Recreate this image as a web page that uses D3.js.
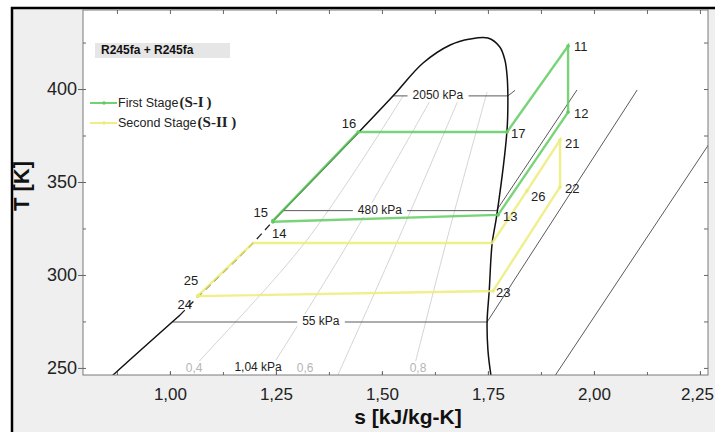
<!DOCTYPE html>
<meta charset="utf-8">
<script src="https://cdn.jsdelivr.net/npm/d3@7"></script>
<style>
  body { margin: 0; background: #fff; }
  text { font-family: "Liberation Sans", Arial, sans-serif; }
</style>
<div id="chart"></div>
<script>

// ---- data (s in kJ/kg-K, T in K) ----
const sTicks = [1.00, 1.25, 1.50, 1.75, 2.00, 2.25];
const sTickLabels = ["1,00", "1,25", "1,50", "1,75", "2,00", "2,25"];
const TTicks = [250, 300, 350, 400];

// saturation dome, liquid side up to the critical point and down the vapour side
const dome = [
  [0.854, 243.5], [0.866, 246.2], [1.024, 278.5], [1.066, 288.2], [1.196, 317.2],
  [1.243, 329.0], [1.448, 377.4], [1.526, 396.2], [1.597, 414.0], [1.661, 423.7],
  [1.708, 426.9], [1.750, 427.4], [1.778, 422.6], [1.790, 415.6], [1.795, 407.5],
  [1.797, 396.8], [1.795, 377.9], [1.771, 332.3], [1.760, 317.2], [1.753, 291.4],
  [1.748, 274.7], [1.750, 259.6], [1.757, 246.2], [1.760, 242.4]
];

// first stage cycle (S-I)
const stage1 = [
  { name: "14", s: 1.243, T: 328.6 },
  { name: "15", s: 1.243, T: 329.2 },
  { name: "16", s: 1.444, T: 376.9 },
  { name: "17", s: 1.795, T: 376.9 },
  { name: "11", s: 1.939, T: 423.1 },
  { name: "12", s: 1.939, T: 387.6 },
  { name: "13", s: 1.774, T: 332.3 },
  { name: "14", s: 1.243, T: 328.6 }
];

// second stage cycle (S-II)
const stage2 = [
  { name: "24", s: 1.066, T: 288.6 },
  { name: "25", s: 1.067, T: 289.0 },
  { name: "",   s: 1.196, T: 317.2 },
  { name: "",   s: 1.760, T: 317.2 },
  { name: "26", s: 1.842, T: 345.2 },
  { name: "21", s: 1.920, T: 372.6 },
  { name: "22", s: 1.920, T: 347.3 },
  { name: "23", s: 1.762, T: 291.4 },
  { name: "24", s: 1.066, T: 288.6 }
];

// isobars
const isobars = [
  { label: "2050 kPa", pts: [[1.526, 396.3], [1.797, 396.3], [1.814, 399.3]], at: [1.632, 396.3] },
  { label: "480 kPa",  pts: [[1.268, 334.6], [1.770, 334.6], [1.960, 399.5]], at: [1.495, 334.6] },
  { label: "55 kPa",   pts: [[1.007, 274.7], [1.748, 274.7], [2.102, 399.5]], at: [1.356, 274.7] },
  { label: "1,04 kPa", pts: [[1.900, 243.0], [2.356, 399.5]], at: [1.208, 249.9] }
];

// constant quality lines
const qualityLines = [
  [[1.040, 246.2], [1.076, 255.3], [1.323, 318.8], [1.550, 396.3]],
  [[1.227, 246.2], [1.253, 255.3], [1.425, 318.8], [1.620, 396.3]],
  [[1.396, 246.2], [1.538, 318.8], [1.684, 396.3]],
  [[1.571, 246.2], [1.582, 255.8], [1.653, 318.8], [1.748, 398.4]]
];
const qualityLabels = [
  { label: "0,4", s: 1.057, T: 249.9 },
  { label: "0,6", s: 1.319, T: 249.9 },
  { label: "0,8", s: 1.585, T: 249.9 }
];

// ---- layout ----
const width = 715, height = 432;
const plot = { left: 83, top: 10, right: 708, bottom: 375 };
const green = "#62cc62", yellow = "#ecec78";

const svg = d3.select("#chart").append("svg")
  .attr("width", width)
  .attr("height", height);

// figure background with the black frame
svg.append("rect")
  .attr("x", 12).attr("y", 8)
  .attr("width", width + 20).attr("height", height + 20)
  .attr("fill", "#efefef")
  .attr("stroke", "#000")
  .attr("stroke-width", 2.5);

svg.append("rect")
  .attr("x", plot.left).attr("y", plot.top)
  .attr("width", plot.right - plot.left).attr("height", plot.bottom - plot.top)
  .attr("fill", "#fff");

svg.append("clipPath").attr("id", "clip")
  .append("rect")
  .attr("x", plot.left).attr("y", plot.top)
  .attr("width", plot.right - plot.left).attr("height", plot.bottom - plot.top);

const x = d3.scaleLinear().domain([0.795, 2.269]).range([plot.left, plot.right]);
const y = d3.scaleLinear().domain([246.2, 442.5]).range([plot.bottom, plot.top]);

const g = svg.append("g").attr("clip-path", "url(#clip)");
const line = d3.line().x(d => x(d[0])).y(d => y(d[1]));
const smooth = d3.line().x(d => x(d[0])).y(d => y(d[1])).curve(d3.curveCatmullRom);

// quality lines
g.selectAll(".quality")
  .data(qualityLines)
  .join("path")
  .attr("class", "quality")
  .attr("d", smooth)
  .attr("fill", "none")
  .attr("stroke", "#cfcfcf")
  .attr("stroke-width", 0.9);

// isobars
g.selectAll(".isobar")
  .data(isobars)
  .join("path")
  .attr("class", "isobar")
  .attr("d", d => line(d.pts))
  .attr("fill", "none")
  .attr("stroke", "#5a5a5a")
  .attr("stroke-width", 1);

// labels with a white box that hides the lines beneath
function boxedLabel(parent, txt, px, py, color) {
  const lg = parent.append("g");
  const t = lg.append("text")
    .attr("x", px).attr("y", py).attr("dy", "0.35em")
    .attr("text-anchor", "middle")
    .style("font-size", "12px")
    .attr("fill", color)
    .text(txt);
  const b = t.node().getBBox();
  lg.insert("rect", "text")
    .attr("x", b.x - 5).attr("y", b.y)
    .attr("width", b.width + 10).attr("height", b.height)
    .attr("fill", "#fff");
}
isobars.forEach(d => boxedLabel(g, d.label, x(d.at[0]), y(d.at[1]) - 1, "#222"));
qualityLabels.forEach(d => boxedLabel(g, d.label, x(d.s), y(d.T), "#b5b5b5"));

// dome: solid, with the part under the second stage drawn dashed
const lowDome = dome.filter(d => d[0] < 1.3 && d[1] <= 278.5);
const midDome = dome.filter(d => d[0] < 1.3 && d[1] >= 278.5 && d[1] <= 329.0);
const topDome = dome.filter(d => !(d[0] < 1.3 && d[1] < 329.0));
g.append("path").datum(lowDome).attr("d", smooth)
  .attr("fill", "none").attr("stroke", "#111").attr("stroke-width", 1.5);
g.append("path").datum(midDome).attr("d", smooth)
  .attr("fill", "none").attr("stroke", "#222").attr("stroke-width", 1.3)
  .attr("stroke-dasharray", "7,5");
g.append("path").datum(topDome).attr("d", smooth)
  .attr("fill", "none").attr("stroke", "#111").attr("stroke-width", 1.5);

// cycles, slightly see-through so the dome shows under them
function drawCycle(data, color) {
  g.append("path")
    .datum(data.map(d => [d.s, d.T]))
    .attr("d", line)
    .attr("fill", "none")
    .attr("stroke", color)
    .attr("stroke-opacity", 0.85)
    .attr("stroke-width", 2.4);
  g.selectAll(null)
    .data(data.filter(d => d.name))
    .join("circle")
    .attr("cx", d => x(d.s)).attr("cy", d => y(d.T))
    .attr("r", 1.8)
    .attr("fill", color);
}
drawCycle(stage2, yellow);
drawCycle(stage1, green);

// state point labels
const labelPos = {
  "11": [6, 0, "start"], "12": [6, 1, "start"], "17": [4, 1, "start"], "13": [5, 2, "start"],
  "16": [-2, -9, "end"], "15": [-5, -8, "end"], "14": [-1, 12, "start"],
  "21": [5, 3, "start"], "22": [5, 1, "start"], "26": [4, 6, "start"], "23": [3, 1, "start"],
  "25": [0, -15, "end"], "24": [-6, 8, "end"]
};
const named = stage1.slice(0, 7).concat(stage2.slice(0, 8)).filter(d => d.name);
svg.selectAll(".ptlabel")
  .data(named)
  .join("text")
  .attr("class", "ptlabel")
  .attr("x", d => x(d.s) + labelPos[d.name][0])
  .attr("y", d => y(d.T) + labelPos[d.name][1])
  .attr("dy", "0.35em")
  .attr("text-anchor", d => labelPos[d.name][2])
  .style("font-size", "13px")
  .attr("fill", "#222")
  .text(d => d.name);

// plot frame
svg.append("rect")
  .attr("x", plot.left).attr("y", plot.top)
  .attr("width", plot.right - plot.left).attr("height", plot.bottom - plot.top)
  .attr("fill", "none").attr("stroke", "#7a7a7a").attr("stroke-width", 1);

// axes
const sMinor = d3.range(0.875, 2.27, 0.125);
const TMinor = d3.range(250, 442, 25);

const bottomAxis = svg.append("g")
  .attr("transform", `translate(0,${plot.bottom})`)
  .call(d3.axisBottom(x).tickValues(sTicks).tickSizeInner(-4).tickSizeOuter(0).tickPadding(13)
    .tickFormat((d, i) => sTickLabels[i]));
svg.append("g").attr("transform", `translate(0,${plot.bottom})`)
  .call(d3.axisBottom(x).tickValues(sMinor).tickSize(-3).tickFormat(""));
svg.append("g").attr("transform", `translate(0,${plot.top})`)
  .call(d3.axisTop(x).tickValues(sMinor).tickSize(-4).tickFormat(""));

const leftAxis = svg.append("g")
  .attr("transform", `translate(${plot.left},0)`)
  .call(d3.axisLeft(y).tickValues(TTicks).tickSizeInner(5).tickSizeOuter(0).tickPadding(1));
svg.append("g").attr("transform", `translate(${plot.left},0)`)
  .call(d3.axisLeft(y).tickValues(TMinor).tickSize(-3).tickFormat(""));
svg.append("g").attr("transform", `translate(${plot.right},0)`)
  .call(d3.axisRight(y).tickValues(TMinor).tickSize(-4).tickFormat(""));

svg.selectAll(".domain").remove();
svg.selectAll(".tick line").attr("stroke", "#666");
bottomAxis.selectAll("text").style("font-size", "17px").attr("fill", "#222")
  .style("font-family", "'Liberation Sans', Arial, sans-serif");
// the last label sits against the window edge, as in the original
bottomAxis.selectAll("text").filter(d => d === 2.25).attr("dx", -3);
leftAxis.selectAll("text").style("font-size", "18px").attr("fill", "#222")
  .style("font-family", "'Liberation Sans', Arial, sans-serif");

// axis titles
svg.append("text")
  .attr("x", 408).attr("y", 417).attr("dy", "0.35em")
  .attr("text-anchor", "middle")
  .style("font-size", "21px").style("font-weight", "bold")
  .attr("fill", "#111")
  .text("s [kJ/kg-K]");
svg.append("text")
  .attr("transform", "translate(21,186) rotate(-90)")
  .attr("dy", "0.35em")
  .attr("text-anchor", "middle")
  .style("font-size", "22px").style("font-weight", "bold")
  .attr("fill", "#111")
  .text("T [K]");

// legend
svg.append("rect")
  .attr("x", 95).attr("y", 43).attr("width", 135).attr("height", 15)
  .attr("fill", "#e6e6e6");
svg.append("text")
  .attr("x", 101).attr("y", 50).attr("dy", "0.35em")
  .style("font-size", "12px").style("font-weight", "bold")
  .attr("fill", "#111")
  .text("R245fa + R245fa");

const legendItems = [
  { label: "First Stage", tag: "(S-I\u2009)", color: green, yPos: 103 },
  { label: "Second Stage", tag: "(S-II )", color: yellow, yPos: 123 }
];
const leg = svg.selectAll(".legend")
  .data(legendItems)
  .join("g")
  .attr("class", "legend");
leg.append("line")
  .attr("x1", 90).attr("x2", 117)
  .attr("y1", d => d.yPos).attr("y2", d => d.yPos)
  .attr("stroke", d => d.color).attr("stroke-width", 1.8);
leg.append("circle")
  .attr("cx", 104).attr("cy", d => d.yPos).attr("r", 1.8)
  .attr("fill", d => d.color);
const lt = leg.append("text")
  .attr("x", 118).attr("y", d => d.yPos).attr("dy", "0.35em")
  .style("font-size", "12.5px")
  .attr("fill", "#222");
lt.append("tspan").text(d => d.label);
lt.append("tspan")
  .style("font-family", "'Liberation Serif', 'Times New Roman', serif")
  .style("font-weight", "bold")
  .style("font-size", "15px")
  .attr("dx", 1)
  .text(d => d.tag);

</script>
